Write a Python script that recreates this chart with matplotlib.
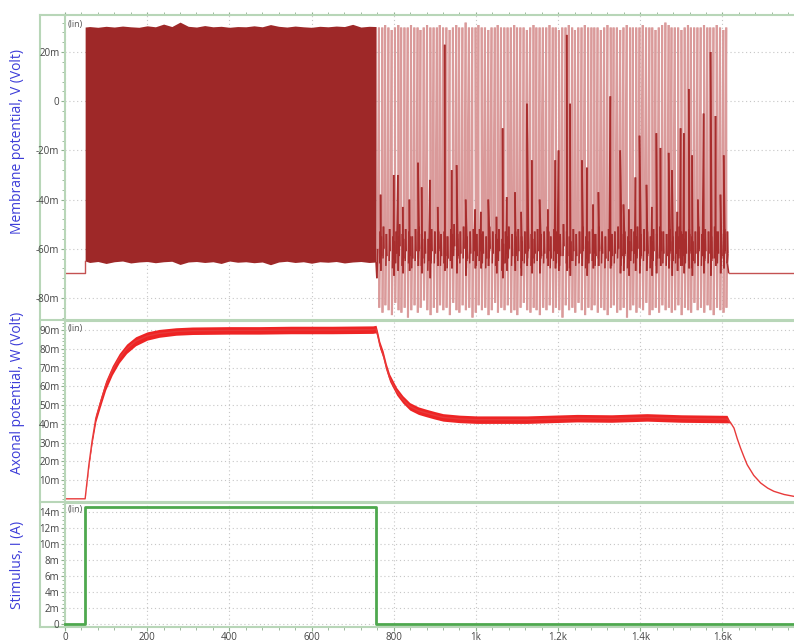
import matplotlib
matplotlib.use("Agg")
import matplotlib.pyplot as plt
import numpy as np
from matplotlib.collections import LineCollection
from matplotlib.ticker import MultipleLocator, FuncFormatter, FixedLocator
from matplotlib.lines import Line2D

plt.rcParams['font.family'] = ['Open Sans', 'DejaVu Sans']

# ---------------- data (time in arbitrary units, values in milli-units) ----------------
V_rest = -70.0
rest_end_t = 49
restart_t = 1615

# dense spiking block envelope (during stimulus)
dense_t = [49, 60, 80, 100, 120, 140, 160, 180, 200, 220, 240, 260, 280, 300, 320, 340,
           360, 380, 400, 420, 440, 460, 480, 500, 520, 540, 560, 580, 600, 620, 640, 660,
           680, 700, 720, 740, 757]
dense_top = [30.2, 30.4, 30.1, 30.5, 30.2, 30.6, 30.3, 30.1, 30.7, 30.3, 31.4, 30.4, 32.2,
             30.5, 30.2, 30.8, 30.3, 30.5, 30.1, 30.4, 30.3, 30.7, 30.3, 31.2, 30.5, 30.2,
             30.6, 30.3, 30.1, 30.5, 30.3, 30.6, 30.4, 31.3, 30.2, 30.5, 30.4]
dense_bot = [-65.0, -65.6, -65.2, -66.0, -65.3, -65.0, -65.8, -65.4, -65.2, -65.7,
             -65.3, -65.1, -66.4, -65.4, -65.2, -65.6, -65.3, -66.0, -65.0, -65.5,
             -65.3, -65.7, -65.4, -66.5, -65.4, -65.1, -65.6, -65.3, -65.9, -65.3,
             -65.5, -65.2, -65.8, -65.4, -65.2, -65.6, -65.4]

# full spikes after the stimulus
spike_t = [764, 772, 779, 787, 795, 803, 811, 818, 826, 834,
           842, 850, 858, 865, 873, 881, 889, 897, 905, 912,
           920, 928, 936, 944, 952, 959, 967, 975, 983, 991,
           999, 1006, 1014, 1022, 1030, 1038, 1046, 1053, 1061, 1069,
           1077, 1085, 1093, 1100, 1108, 1116, 1124, 1132, 1140, 1147,
           1155, 1163, 1171, 1179, 1187, 1194, 1202, 1210, 1218, 1226,
           1234, 1241, 1249, 1257, 1265, 1273, 1281, 1288, 1296, 1304,
           1312, 1320, 1328, 1335, 1343, 1351, 1359, 1367, 1375, 1382,
           1390, 1398, 1406, 1414, 1422, 1429, 1437, 1445, 1453, 1461,
           1469, 1476, 1484, 1492, 1500, 1508, 1516, 1523, 1531, 1539,
           1547, 1555, 1563, 1570, 1578, 1586, 1594, 1602, 1609]
spike_peak = [30, 30, 31, 30, 29, 30, 31, 30, 30, 30,
              31, 30, 30, 29, 30, 31, 30, 30, 30, 31,
              30, 30, 29, 30, 31, 30, 30, 32, 30, 30,
              30, 31, 30, 30, 29, 30, 30, 31, 30, 30,
              30, 30, 31, 30, 30, 30, 29, 30, 31, 30,
              30, 30, 30, 31, 30, 30, 29, 30, 30, 31,
              30, 29, 30, 30, 31, 30, 30, 30, 30, 29,
              30, 31, 30, 30, 30, 29, 30, 31, 30, 30,
              30, 30, 31, 30, 30, 30, 29, 30, 31, 32,
              31, 30, 30, 30, 29, 30, 31, 30, 30, 30,
              30, 31, 30, 30, 30, 31, 30, 29, 30]
spike_trough = [-84, -86, -83, -85, -87, -82, -85, -86, -84, -88,
                -85, -83, -86, -84, -81, -85, -87, -84, -86, -83,
                -85, -84, -87, -82, -85, -86, -83, -85, -84, -88,
                -86, -83, -85, -84, -87, -85, -82, -86, -84, -85,
                -83, -86, -85, -87, -84, -82, -85, -86, -84, -85,
                -87, -84, -85, -83, -86, -84, -85, -88, -83, -85,
                -84, -86, -82, -85, -87, -84, -85, -83, -86, -84,
                -85, -87, -84, -83, -86, -85, -84, -88, -85, -83,
                -86, -84, -85, -82, -87, -85, -84, -86, -83, -85,
                -84, -86, -85, -83, -87, -84, -85, -86, -82, -85,
                -84, -86, -83, -85, -87, -84, -85, -86, -84]
# centre of the slow "dwell" oscillation that follows each full spike
spike_dwell = [-60, -58, -61, -59, -62, -60, -57, -61, -59, -60,
               -62, -59, -58, -61, -60, -63, -59, -60, -58, -61,
               -60, -62, -59, -57, -61, -60, -58, -62, -60, -59,
               -61, -59, -60, -62, -58, -60, -61, -59, -63, -60,
               -58, -61, -60, -59, -62, -60, -58, -61, -60, -59,
               -61, -60, -58, -62, -59, -60, -61, -57, -60, -62,
               -59, -61, -60, -58, -62, -60, -59, -61, -58, -60,
               -62, -59, -61, -60, -58, -61, -60, -62, -59, -60,
               -58, -61, -59, -60, -62, -59, -61, -58, -60, -61,
               -59, -62, -60, -58, -61, -60, -59, -62, -60, -58,
               -61, -59, -60, -62, -58, -60, -61, -59, -60]

# partial (sub-threshold) spikes after the stimulus
partial_t = [768, 800, 810, 822, 838, 859, 868, 888, 907, 924, 941, 953, 975, 998, 1012,
             1030, 1050, 1065, 1075, 1095, 1110, 1124, 1136, 1155, 1175, 1193, 1201, 1221,
             1229, 1258, 1270, 1285, 1298, 1327, 1351, 1359, 1372, 1388, 1398, 1415, 1428,
             1439, 1449, 1469, 1477, 1490, 1498, 1506, 1518, 1526, 1540, 1554, 1571, 1583,
             1595, 1603]
partial_peak = [-38, -30, -30, -43, -40, -25, -35, -32, -43, 23, -28, -26, -40, -44, -45,
                -40, -47, -11, -39, -37, -45, -1, -24, -40, -44, -24, -20, 27,
                -1, -24, -27, -42, -37, 2, -20, -42, -44, -31, -14, -34, -43,
                -13, -19, -21, -28, -45, -11, -13, 5, -22, -40, -5, 20, -6,
                -38, -22]

# axonal potential W
W_t = [0, 49, 53, 58, 66, 75, 87, 99, 115, 132,
       150, 172, 200, 229, 270, 310, 400, 473, 550, 650,
       749, 757, 762, 766, 774, 782, 790, 807, 822, 839,
       860, 880, 900, 920, 960, 1002, 1124, 1246, 1330, 1416,
       1500, 1611, 1620, 1628, 1636, 1644, 1652, 1660, 1676, 1693,
       1710, 1725, 1750, 1774]
W_mid = [0, 0, 8, 18, 31, 43, 52, 60.5, 68.5, 75,
         80, 84, 86.8, 88.2, 89.2, 89.6, 89.8, 89.8, 90, 90,
         90.2, 90.5, 86, 82, 77, 70, 64.5, 57.3, 53, 49.3,
         47, 45.7, 44.5, 43.4, 42.6, 42.2, 42.2, 43, 42.8, 43.4,
         42.8, 42.5, 40.5, 37.7, 32, 27, 22.5, 18.2, 12.5, 8.4,
         5.7, 4, 2.3, 1.3]
W_half = [0, 0, 0.5, 1, 1.5, 2, 2.3, 2.5, 2.5, 2.5,
          2.5, 2.4, 2.2, 2.1, 2, 2, 2, 2, 2, 2,
          2, 2, 2, 2, 2, 2, 2, 2, 2, 2,
          2, 2, 2, 2, 2, 2, 2, 2, 2, 2,
          2, 2, 0, 0, 0, 0, 0, 0, 0, 0,
          0, 0, 0, 0]

# stimulus current
I_t = [0, 49, 49, 757, 757, 1774]
I_val = [0, 0, 14.7, 14.7, 0, 0]

x_ticks = [0, 200, 400, 600, 800, 1000, 1200, 1400, 1600]
V_ticks = [-80, -60, -40, -20, 0, 20]
W_ticks = [10, 20, 30, 40, 50, 60, 70, 80, 90]
I_ticks = [0, 2, 4, 6, 8, 10, 12, 14]

# ---------------- figure ----------------
FW, FH = 794, 642
fig = plt.figure(figsize=(FW / 100, FH / 100), dpi=100)


def px_axes(x0, y0, x1, y1):
    return fig.add_axes([x0 / FW, 1 - y1 / FH, (x1 - x0) / FW, (y1 - y0) / FH])


axV = px_axes(65, 15, 794, 320)
axW = px_axes(65, 321, 794, 502)
axI = px_axes(65, 503, 794, 627)

frame_c = '#b8d6b8'
tick_c = '#8fb08f'
lab_c = '#444444'


def mfmt(v, pos):
    if abs(v) < 1e-9:
        return '0'
    return f"{v:g}m".replace('\u2212', '-')


def kfmt(v, pos):
    if v >= 1000:
        return f"{v / 1000:g}k"
    return f"{v:g}"


for ax in (axV, axW, axI):
    ax.set_xlim(0, 1774)
    for s in ('left', 'top', 'bottom'):
        ax.spines[s].set_color(frame_c)
        ax.spines[s].set_linewidth(1.5)
    ax.spines['right'].set_visible(False)
    ax.xaxis.set_major_locator(FixedLocator(x_ticks))
    ax.xaxis.set_minor_locator(MultipleLocator(40))
    ax.grid(True, which='major', color='#c6c6c6', linestyle=(0, (1, 2.5)), linewidth=0.8)
    ax.set_axisbelow(True)
    ax.tick_params(axis='y', which='both', direction='out', color=tick_c, labelcolor=lab_c,
                   labelsize=7, pad=1)
    ax.tick_params(axis='y', which='major', length=3)
    ax.tick_params(axis='y', which='minor', length=2)
    ax.tick_params(axis='x', which='both', bottom=False, top=False, labelbottom=False)
    ax.yaxis.set_major_formatter(FuncFormatter(mfmt))
    ax.text(0.003, 0.985, '(lin)', transform=ax.transAxes, fontsize=6.5, color='#555555',
            ha='left', va='top')

axI.tick_params(axis='x', which='both', bottom=True, labelbottom=True, direction='out',
                color=tick_c, labelcolor=lab_c, labelsize=7, pad=0.5)
axI.tick_params(axis='x', which='major', length=3)
axI.tick_params(axis='x', which='minor', length=2)
axI.xaxis.set_major_formatter(FuncFormatter(kfmt))
axV.tick_params(axis='x', which='both', top=True, direction='out', length=2, color=tick_c)

# ---- V panel ----
axV.set_ylim(-89, 35.1)
axV.yaxis.set_major_locator(FixedLocator(V_ticks))
axV.yaxis.set_minor_locator(MultipleLocator(4))

dark_red = '#9e2828'
axV.fill_between(dense_t, dense_bot, dense_top, color=dark_red, linewidth=0)
axV.plot([0, rest_end_t, rest_end_t], [V_rest, V_rest, dense_bot[0]], color='#c45252', lw=1.0)

events = [(t, 'full', p, tr, d) for t, p, tr, d in zip(spike_t, spike_peak, spike_trough, spike_dwell)]
events += [(t, 'part', p, None, None) for t, p in zip(partial_t, partial_peak)]
events.sort(key=lambda e: e[0])

pts = [(dense_t[-1], dense_bot[-1]), (759, -72.0), (761, -60.0)]
light = [False, False, False]
last_d = -60.0
for t, kind, p, tr, d in events:
    if kind == 'full':
        last_d = d
        pts += [(t, p), (t + 0.6, tr), (t + 2.0, d - 6), (t + 3.0, d + 7), (t + 4.2, d - 2)]
        light += [True, True, True, False, False]
    else:
        pts += [(t, p), (t + 0.7, last_d - 9), (t + 1.7, last_d + 5), (t + 2.7, last_d - 3)]
        light += [False, False, False, False]
pts += [(1612, -66.0), (restart_t, V_rest)]
light += [False, False]

segs_light, segs_dark = [], []
for i in range(1, len(pts)):
    seg = [pts[i - 1], pts[i]]
    (segs_light if light[i] else segs_dark).append(seg)

axV.add_collection(LineCollection(segs_light, colors='#da9a9a', linewidths=1.5))
axV.add_collection(LineCollection(segs_dark, colors='#a82d2d', linewidths=1.2))
axV.plot([restart_t, 1774], [V_rest, V_rest], color='#c45252', lw=1.0)

# ---- W panel ----
axW.set_ylim(-1.7, 94.8)
axW.yaxis.set_major_locator(FixedLocator(W_ticks))
axW.yaxis.set_minor_locator(MultipleLocator(2))
W_mid_a = np.array(W_mid)
W_half_a = np.array(W_half)
axW.fill_between(W_t, W_mid_a - W_half_a, W_mid_a + W_half_a, color='#ee2424', linewidth=0)
axW.plot(W_t, W_mid, color='#e83a3a', lw=1.0)

# ---- I panel ----
axI.set_ylim(-0.35, 15.15)
axI.yaxis.set_major_locator(FixedLocator(I_ticks))
axI.yaxis.set_minor_locator(MultipleLocator(0.5))
axI.plot(I_t, I_val, color='#4ea84e', lw=2.0, clip_on=False, zorder=3)

# outer frame of the label column (drawn beneath the axes)
for y in (15, 320, 502, 627):
    fig.add_artist(Line2D([40 / FW, 65 / FW], [1 - y / FH, 1 - y / FH], color=frame_c, lw=1.5,
                          zorder=-1))
fig.add_artist(Line2D([40 / FW, 40 / FW], [1 - 15 / FH, 1 - 627 / FH], color=frame_c, lw=1.5,
                      zorder=-1))

# y labels
lab_blue = '#3c3cd8'
fig.text(18 / FW, 1 - 141 / FH, 'Membrane potential, V (Volt)', rotation=90, color=lab_blue,
         fontsize=10, ha='center', va='center')
fig.text(18 / FW, 1 - 393 / FH, 'Axonal potential, W (Volt)', rotation=90, color=lab_blue,
         fontsize=10, ha='center', va='center')
fig.text(18 / FW, 1 - 565 / FH, 'Stimulus, I (A)', rotation=90, color=lab_blue,
         fontsize=10, ha='center', va='center')

fig.savefig('out.png', dpi=100)
